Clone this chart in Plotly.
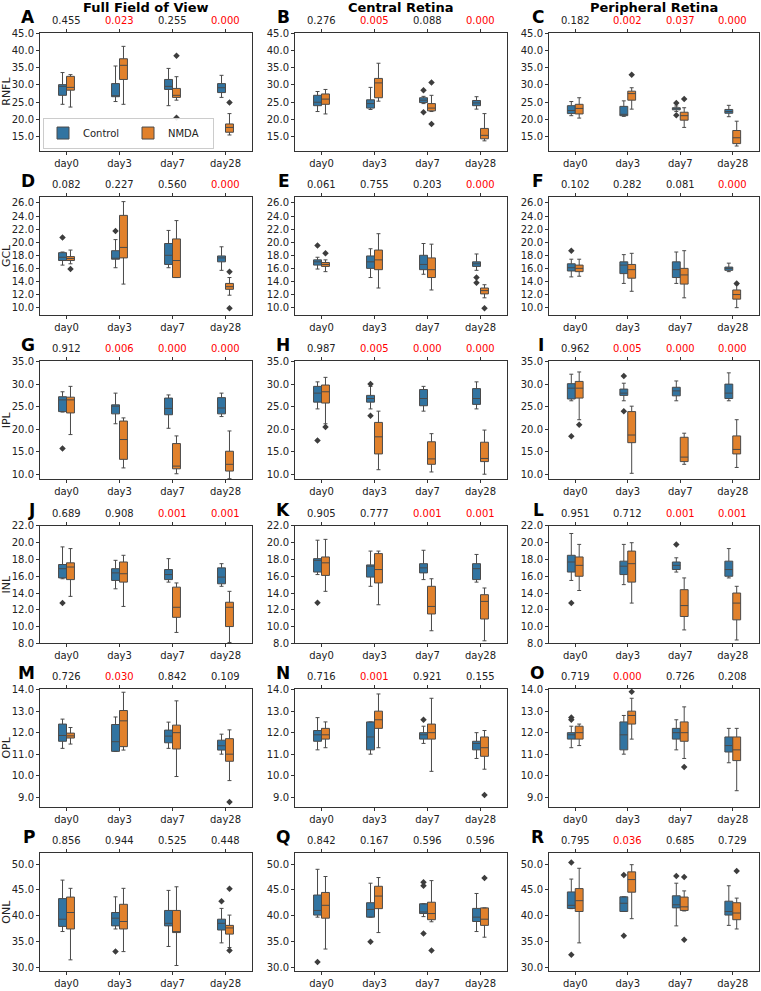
import plotly.graph_objects as go
from plotly.subplots import make_subplots

days = ['day0', 'day3', 'day7', 'day28']
layers = ['RNFL', 'GCL', 'IPL', 'INL', 'OPL', 'ONL']
regions = ['Full Field of View', 'Central Retina', 'Peripheral Retina']
letters = 'ABCDEFGHIJKLMNOPQR'

# each box: (lower whisker, q1, median, q3, upper whisker), one per day
# outliers: (day index, group, value)
A_ctrl = [(24.4, 27.0, 29.6, 30.1, 33.6), (25.2, 26.6, 26.8, 30.4, 35.5), (24.0, 28.7, 29.6, 31.6, 34.8), (26.4, 27.8, 29.2, 30.4, 32.8)]
A_nmda = [(23.6, 28.5, 29.3, 32.5, 33.0), (24.4, 31.6, 35.7, 37.6, 41.2), (25.6, 26.4, 27.0, 29.0, 32.4), (15.5, 16.3, 17.7, 18.7, 21.7)]
A_out = [(2, 'N', 38.5), (2, 'N', 20.5), (3, 'N', 24.9)]
A_p = [0.455, 0.023, 0.255, 0.000]

B_ctrl = [(22.3, 24.0, 25.0, 27.0, 28.1), (22.9, 23.3, 24.6, 25.7, 29.3), (24.6, 24.9, 25.6, 26.3, 26.7), (23.0, 24.0, 24.8, 25.5, 26.6)]
B_nmda = [(21.6, 24.4, 25.9, 27.4, 28.7), (25.3, 26.3, 30.6, 31.9, 36.3), (22.3, 22.5, 23.3, 24.6, 27.0), (13.8, 14.4, 15.4, 17.4, 21.7)]
B_out = [(2, 'C', 28.5), (2, 'C', 22.1), (2, 'N', 30.7), (2, 'N', 18.7)]
B_p = [0.276, 0.005, 0.088, 0.000]

C_ctrl = [(21.1, 21.7, 22.6, 24.0, 25.2), (20.9, 21.1, 21.5, 23.8, 25.4), (22.3, 22.8, 23.1, 23.4, 23.9), (20.8, 21.8, 22.3, 22.9, 24.1)]
C_nmda = [(20.4, 21.6, 23.2, 24.4, 26.3), (23.0, 25.6, 27.5, 28.2, 29.2), (17.7, 19.8, 21.1, 22.1, 23.4), (12.3, 13.0, 14.7, 16.8, 19.5)]
C_out = [(1, 'N', 33.0), (2, 'C', 24.8), (2, 'C', 21.2), (2, 'N', 25.9)]
C_p = [0.182, 0.002, 0.037, 0.000]

D_ctrl = [(16.5, 17.2, 17.7, 18.4, 18.5), (16.1, 17.4, 17.5, 18.7, 20.4), (16.1, 16.6, 18.0, 19.8, 21.8), (15.7, 17.0, 17.6, 17.9, 19.3)]
D_nmda = [(16.7, 17.2, 17.5, 17.8, 18.8), (13.6, 17.6, 19.2, 24.1, 26.2), (14.6, 14.6, 17.2, 20.5, 23.3), (11.9, 12.8, 13.2, 13.7, 14.6)]
D_out = [(0, 'C', 20.7), (0, 'N', 15.9), (1, 'C', 21.7), (3, 'N', 15.5), (3, 'N', 9.9)]
D_p = [0.082, 0.227, 0.560, 0.000]

E_ctrl = [(15.9, 16.5, 17.0, 17.3, 17.7), (14.6, 16.0, 17.0, 17.9, 19.0), (15.1, 15.8, 16.6, 18.0, 19.8), (15.7, 16.3, 16.7, 17.0, 18.2)]
E_nmda = [(15.5, 16.3, 16.6, 16.9, 17.3), (13.0, 15.8, 17.3, 18.8, 21.3), (12.7, 14.6, 15.8, 17.6, 19.7), (11.5, 12.1, 12.6, 13.0, 13.5)]
E_out = [(0, 'C', 19.5), (0, 'N', 18.3), (3, 'C', 14.6), (3, 'C', 13.8), (3, 'N', 9.9)]
E_p = [0.061, 0.755, 0.203, 0.000]

F_ctrl = [(14.7, 15.6, 16.1, 16.7, 17.4), (13.7, 15.2, 16.5, 17.0, 18.1), (13.7, 14.6, 15.8, 17.0, 18.5), (15.5, 15.7, 16.0, 16.2, 16.8)]
F_nmda = [(14.8, 15.5, 16.0, 16.5, 17.4), (12.5, 14.5, 15.8, 16.6, 18.3), (11.5, 13.6, 15.0, 16.0, 18.7), (10.0, 11.3, 12.0, 12.7, 13.5)]
F_out = [(0, 'C', 18.7), (3, 'N', 13.7)]
F_p = [0.102, 0.282, 0.081, 0.000]

G_ctrl = [(23.8, 23.9, 26.5, 27.2, 28.3), (21.2, 23.4, 25.1, 25.4, 28.0), (20.2, 23.2, 24.6, 26.9, 27.6), (22.8, 23.4, 24.7, 27.0, 28.0)]
G_nmda = [(18.8, 23.6, 26.5, 27.1, 29.5), (11.4, 13.3, 17.7, 21.8, 22.5), (10.1, 11.2, 11.8, 16.8, 18.5), (9.0, 10.7, 12.2, 15.1, 19.6)]
G_out = [(0, 'C', 15.7)]
G_p = [0.912, 0.006, 0.000, 0.000]

H_ctrl = [(24.5, 26.0, 28.0, 29.5, 30.5), (24.5, 26.0, 26.8, 27.5, 29.5), (24.0, 25.2, 26.8, 28.8, 29.5), (24.5, 25.5, 26.8, 29.0, 30.5)]
H_nmda = [(21.2, 25.8, 28.3, 29.8, 31.5), (11.0, 14.5, 18.3, 21.5, 24.0), (10.5, 12.2, 13.4, 17.2, 19.0), (10.0, 12.8, 13.5, 17.1, 19.8)]
H_out = [(0, 'C', 17.5), (0, 'N', 20.5), (1, 'C', 30.0), (1, 'C', 23.0)]
H_p = [0.987, 0.005, 0.000, 0.000]

I_ctrl = [(26.3, 26.7, 29.1, 30.1, 32.2), (26.3, 27.5, 28.0, 28.9, 30.2), (26.3, 27.4, 28.5, 29.3, 30.7), (26.3, 26.8, 28.0, 30.0, 32.5)]
I_nmda = [(22.1, 26.9, 29.1, 30.6, 32.7), (10.2, 17.0, 18.7, 23.9, 25.1), (12.2, 12.8, 13.8, 18.2, 19.1), (11.5, 14.5, 15.5, 18.5, 22.1)]
I_out = [(0, 'C', 18.4), (0, 'N', 21.0), (1, 'C', 31.8), (1, 'C', 24.0)]
I_p = [0.962, 0.005, 0.000, 0.000]

J_ctrl = [(15.7, 15.8, 16.9, 17.4, 19.5), (14.5, 15.5, 16.4, 16.9, 17.9), (15.3, 15.6, 16.2, 16.8, 18.1), (14.8, 15.1, 15.9, 17.0, 17.5)]
J_nmda = [(13.6, 15.6, 17.1, 17.6, 19.3), (12.4, 15.3, 16.3, 17.7, 18.5), (9.3, 11.1, 12.3, 14.7, 15.2), (8.1, 10.0, 12.3, 12.9, 14.2)]
J_out = [(0, 'C', 12.8)]
J_p = [0.689, 0.908, 0.001, 0.001]

K_ctrl = [(16.2, 16.5, 17.9, 18.1, 20.3), (14.8, 15.9, 17.2, 17.35, 19.0), (15.6, 16.4, 17.0, 17.5, 19.1), (15.3, 15.6, 16.9, 17.5, 18.6)]
K_nmda = [(14.2, 16.1, 17.6, 18.3, 20.4), (12.6, 15.2, 16.8, 18.7, 19.0), (9.5, 11.5, 12.4, 14.8, 15.7), (8.3, 10.9, 13.0, 13.8, 14.6)]
K_out = [(0, 'C', 12.85)]
K_p = [0.905, 0.777, 0.001, 0.001]

L_ctrl = [(15.5, 16.5, 17.7, 18.5, 21.1), (15.0, 16.2, 17.2, 17.8, 19.8), (16.5, 16.8, 17.3, 17.7, 18.2), (15.8, 16.0, 16.8, 17.8, 19.3)]
L_nmda = [(14.3, 16.0, 17.3, 18.3, 19.8), (12.8, 15.3, 17.5, 19.0, 20.0), (9.6, 11.2, 12.5, 14.4, 15.8), (8.4, 10.8, 12.8, 14.0, 14.8)]
L_out = [(0, 'C', 12.8), (2, 'C', 19.8)]
L_p = [0.951, 0.712, 0.001, 0.001]

M_ctrl = [(11.27, 11.6, 11.87, 12.4, 12.63), (11.13, 11.13, 11.58, 12.38, 12.73), (11.27, 11.53, 11.84, 12.12, 12.49), (11.0, 11.19, 11.39, 11.65, 11.93)]
M_nmda = [(11.47, 11.75, 11.85, 11.98, 12.24), (11.19, 11.35, 12.55, 13.03, 13.88), (9.96, 11.24, 12.0, 12.35, 13.48), (9.77, 10.67, 11.0, 11.72, 12.13)]
M_out = [(3, 'N', 8.78)]
M_p = [0.726, 0.030, 0.842, 0.109]

N_ctrl = [(11.2, 11.6, 11.9, 12.1, 12.7), (11.0, 11.2, 11.8, 12.5, 12.5), (11.5, 11.7, 11.9, 12.0, 12.3), (10.8, 11.2, 11.5, 11.6, 12.0)]
N_nmda = [(11.3, 11.7, 11.9, 12.2, 12.5), (11.3, 12.2, 12.6, 13.0, 13.8), (10.2, 11.7, 12.0, 12.4, 13.6), (10.3, 10.9, 11.3, 11.8, 12.1)]
N_out = [(2, 'C', 12.6), (3, 'N', 9.1)]
N_p = [0.716, 0.001, 0.921, 0.155]

O_ctrl = [(11.3, 11.7, 11.9, 12.0, 12.3), (11.0, 11.2, 11.9, 12.5, 12.8), (11.2, 11.7, 12.0, 12.2, 12.6), (10.6, 11.1, 11.4, 11.8, 12.2)]
O_nmda = [(11.4, 11.7, 12.0, 12.3, 12.4), (11.7, 12.4, 12.8, 13.0, 13.6), (10.8, 11.6, 12.0, 12.5, 13.2), (9.3, 10.7, 11.2, 11.8, 12.2)]
O_out = [(0, 'C', 12.7), (0, 'C', 12.6), (1, 'N', 13.9), (2, 'N', 10.4)]
O_p = [0.719, 0.000, 0.726, 0.208]

P_ctrl = [(36.9, 37.9, 39.3, 43.3, 46.9), (37.4, 38.0, 39.5, 40.6, 43.65), (34.0, 38.0, 38.5, 41.0, 44.9), (34.7, 37.2, 38.5, 39.3, 41.4)]
P_nmda = [(31.4, 37.4, 40.6, 43.6, 45.3), (33.0, 37.4, 38.85, 42.2, 45.3), (30.3, 36.7, 36.8, 41.0, 45.6), (33.8, 36.4, 37.6, 38.1, 40.1)]
P_out = [(1, 'C', 33.0), (3, 'C', 42.8), (3, 'N', 45.2), (3, 'N', 33.2)]
P_p = [0.856, 0.944, 0.525, 0.448]

Q_ctrl = [(39.7, 40.1, 41.0, 44.0, 49.0), (39.7, 39.7, 41.2, 42.5, 46.3), (39.8, 40.4, 40.7, 42.3, 42.3), (36.9, 38.85, 39.7, 41.4, 44.3)]
Q_nmda = [(33.5, 39.5, 42.0, 44.5, 47.6), (36.7, 41.35, 43.8, 45.7, 47.4), (38.8, 39.2, 40.4, 42.6, 46.8), (35.8, 38.1, 39.3, 41.5, 41.5)]
Q_out = [(0, 'C', 31.0), (1, 'C', 34.9), (2, 'C', 46.5), (2, 'C', 45.8), (2, 'C', 36.5), (2, 'N', 33.2), (3, 'N', 47.3)]
Q_p = [0.842, 0.167, 0.596, 0.596]

R_ctrl = [(41.35, 41.4, 42.0, 44.6, 47.1), (40.8, 40.8, 42.4, 43.65, 43.65), (38.0, 41.5, 42.1, 43.85, 46.3), (38.1, 40.1, 40.8, 42.8, 45.8)]
R_nmda = [(34.7, 40.8, 42.9, 45.25, 49.2), (39.4, 44.55, 47.0, 48.5, 49.9), (40.9, 41.0, 41.7, 43.6, 44.8), (37.4, 39.2, 40.5, 42.5, 43.4)]
R_out = [(0, 'C', 50.3), (0, 'C', 32.4), (1, 'C', 47.9), (1, 'C', 36.1), (2, 'C', 47.7), (2, 'N', 47.5), (2, 'N', 35.3), (3, 'N', 48.65)]
R_p = [0.795, 0.036, 0.685, 0.729]

# y ranges / tick steps per layer row
y_ranges = [(11.0, 45.15), (8.9, 26.9), (8.9, 35.05), (7.98, 22.03), (8.55, 14.03), (29.2, 52.1)]
y_dticks = [5, 2, 5, 2, 1, 5]

panels = {}
for k in letters:
    g = globals()
    panels[k] = (g[k + '_ctrl'], g[k + '_nmda'], g[k + '_out'], g[k + '_p'])

colors = {'C': '#3274A1', 'N': '#E1812C'}
names = {'C': 'Control', 'N': 'NMDA'}
shift = {'C': -0.075, 'N': 0.075}
edge = '#4a4a4a'
font = 'DejaVu Sans'

W, H = 761, 991
col_px = [(40, 252), (295, 507), (549, 759)]
row_px = [(28, 147), (194, 313), (360, 479), (526, 645), (691, 810), (857, 976)]

fig = make_subplots(rows=6, cols=3)

for idx, k in enumerate(letters):
    r, c = idx // 3, idx % 3
    ctrl, nmda, out, pv = panels[k]
    for grp, stats in (('C', ctrl), ('N', nmda)):
        fig.add_trace(go.Box(
            x=[i + shift[grp] for i in range(len(days))],
            lowerfence=[s[0] for s in stats],
            q1=[s[1] for s in stats],
            median=[s[2] for s in stats],
            q3=[s[3] for s in stats],
            upperfence=[s[4] for s in stats],
            width=0.15, whiskerwidth=0.5,
            fillcolor=colors[grp], line=dict(color=edge, width=1),
            name=names[grp], showlegend=(idx == 0), legendgroup=grp,
            hoverinfo='skip'), row=r + 1, col=c + 1)
    if out:
        fig.add_trace(go.Scatter(
            x=[o[0] + shift[o[1]] for o in out], y=[o[2] for o in out],
            mode='markers', showlegend=False, hoverinfo='skip',
            marker=dict(symbol='diamond', size=5, color='#3d3d3d')), row=r + 1, col=c + 1)

    n = idx + 1
    xr = 'x' if n == 1 else 'x%d' % n
    yr = 'y' if n == 1 else 'y%d' % n
    x0, x1 = col_px[c]
    y0, y1 = row_px[r]
    fig.update_xaxes(domain=[x0 / W, x1 / W], range=[-0.5, 3.5],
                     tickvals=list(range(len(days))), ticktext=days,
                     row=r + 1, col=c + 1)
    fig.update_yaxes(domain=[1 - y1 / H, 1 - y0 / H], range=list(y_ranges[r]),
                     dtick=y_dticks[r], tickformat='.1f', row=r + 1, col=c + 1)
    if c == 0:
        fig.update_yaxes(title_text=layers[r], title_standoff=3, row=r + 1, col=1)

    for i, p in enumerate(pv):
        fig.add_annotation(x=i, xref=xr, y=1, yref=yr + ' domain', yanchor='bottom',
                           yshift=5, text='%.3f' % p, showarrow=False,
                           font=dict(size=10, color='red' if p < 0.05 else '#222222'))
    fig.add_annotation(x=0, xref=xr + ' domain', xanchor='right', xshift=-3,
                       y=1, yref=yr + ' domain', yanchor='bottom', yshift=4,
                       text='<b>%s</b>' % k, showarrow=False,
                       font=dict(size=17, color='black'))
    if r == 0:
        fig.add_annotation(x=0.5, xref=xr + ' domain', y=1, yref='paper', yanchor='top',
                           yshift=7, text='<b>%s</b>' % regions[c], showarrow=False,
                           font=dict(size=13, color='black'))

fig.update_xaxes(showgrid=False, zeroline=False, showline=True, linecolor='#333333',
                 linewidth=1, mirror='ticks', ticks='outside', ticklen=3, tickcolor='#333333',
                 tickfont=dict(size=10, color='#222222'))
fig.update_yaxes(showgrid=False, zeroline=False, showline=True, linecolor='#333333',
                 linewidth=1, mirror=True, ticks='outside', ticklen=3, tickcolor='#333333',
                 tickfont=dict(size=10, color='#222222'), title_font=dict(size=11, color='#222222'))

fig.update_layout(
    width=W, height=H, margin=dict(l=0, r=0, t=0, b=0),
    paper_bgcolor='white', plot_bgcolor='white', boxmode='overlay',
    font=dict(family=font, size=10, color='#222222'),
    legend=dict(orientation='h', x=43 / W, y=1 - 145 / H, xanchor='left', yanchor='bottom',
                bgcolor='rgba(255,255,255,0.9)', bordercolor='#cccccc', borderwidth=1,
                font=dict(size=10), itemwidth=30, entrywidth=40, tracegroupgap=0),
)

# the page body has a default 8px margin; drop it so the figure sits at the corner
fig.write_html("out.html", config={'displayModeBar': False},
               post_script="document.body.style.margin='0';")
